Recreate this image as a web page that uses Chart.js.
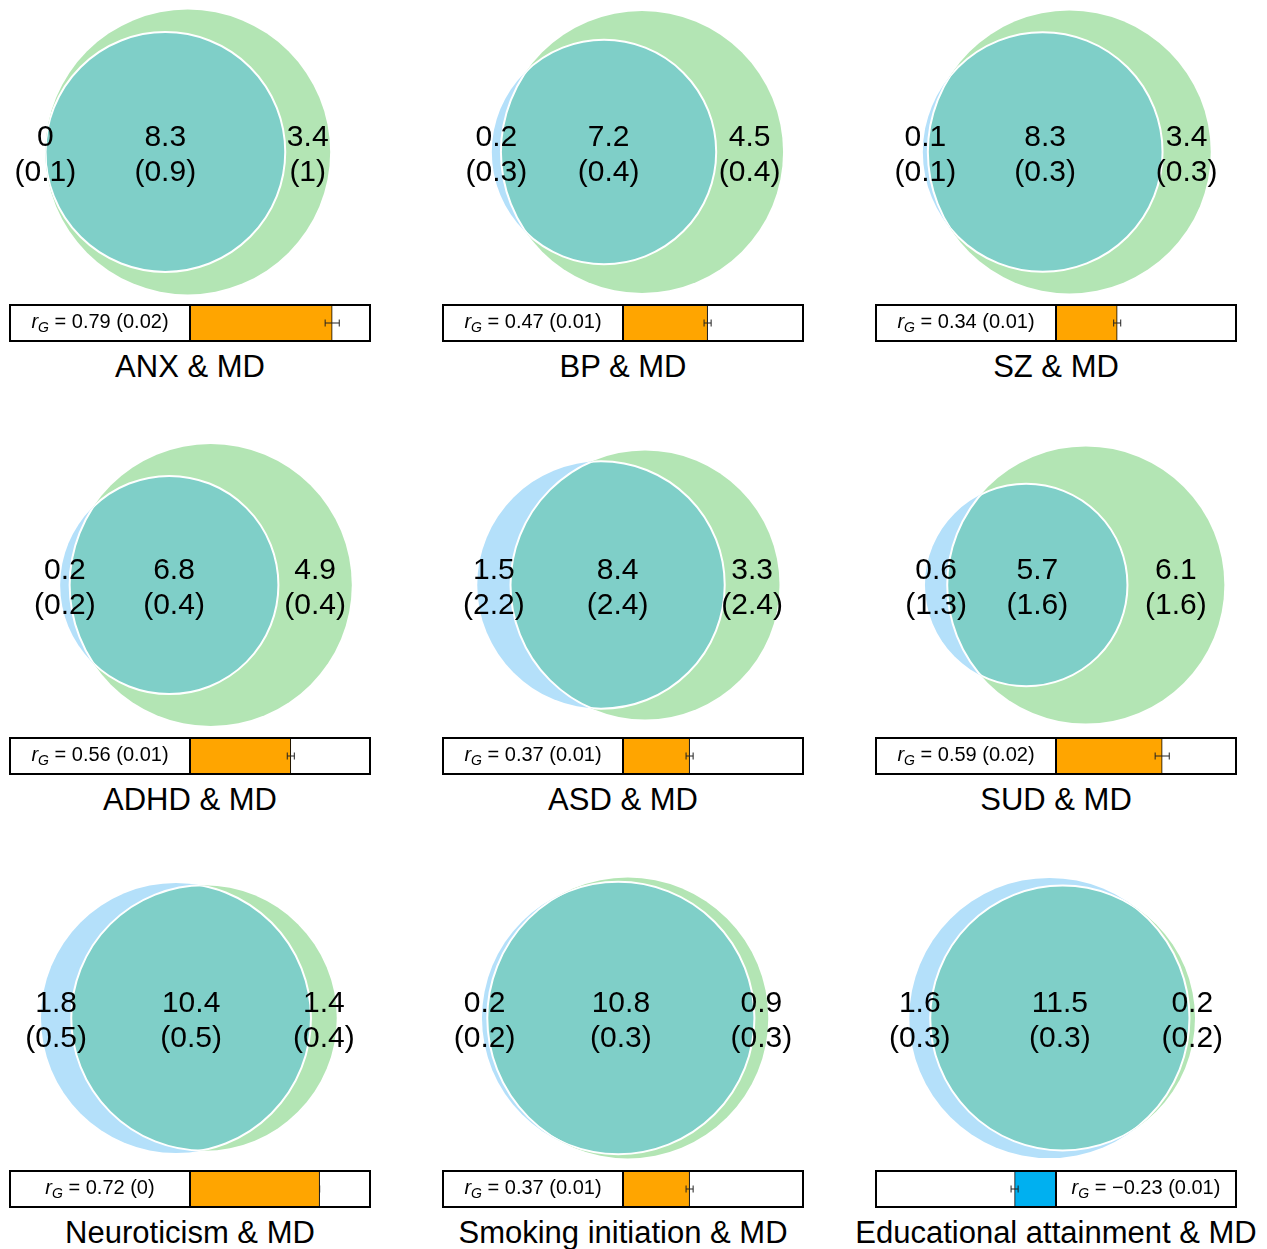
<!DOCTYPE html>
<html>
<head>
<meta charset="utf-8">
<script src="https://cdn.jsdelivr.net/npm/chart.js@4/dist/chart.umd.min.js"></script>
<style>
html, body { margin: 0; padding: 0; background: #fff; width: 1267px; height: 1249px; overflow: hidden; }
.box { position: absolute; }
.title { position: absolute; width: 600px; text-align: center; font: 31px "Liberation Sans", Arial, sans-serif; line-height: 31px; color: #000; white-space: nowrap; }
</style>
</head>
<body>
<script>
// panel data (trait vs MD)
var traits = ["ANX", "BP", "SZ", "ADHD", "ASD", "SUD", "Neuroticism", "Smoking initiation", "Educational attainment"];
var traitOnly = [0, 0.2, 0.1, 0.2, 1.5, 0.6, 1.8, 0.2, 1.6];
var traitOnlySE = [0.1, 0.3, 0.1, 0.2, 2.2, 1.3, 0.5, 0.2, 0.3];
var shared = [8.3, 7.2, 8.3, 6.8, 8.4, 5.7, 10.4, 10.8, 11.5];
var sharedSE = [0.9, 0.4, 0.3, 0.4, 2.4, 1.6, 0.5, 0.3, 0.3];
var mdOnly = [3.4, 4.5, 3.4, 4.9, 3.3, 6.1, 1.4, 0.9, 0.2];
var mdOnlySE = [1, 0.4, 0.3, 0.4, 2.4, 1.6, 0.4, 0.3, 0.2];
var rg = [0.79, 0.47, 0.34, 0.56, 0.37, 0.59, 0.72, 0.37, -0.23];
var rgSE = [0.02, 0.01, 0.01, 0.01, 0.01, 0.02, 0, 0.01, 0.01];

// layout: pixels per area-unit of radius in each venn panel
var vennPxPerUnit = [73.8, 73.1, 73.3, 73.1, 69.7, 71.5, 68.5, 72.8, 68.6];

var BLUE = "#B4E0FA", GREEN = "#B3E5B4", TEAL = "#7FCFC8";
var FONT = '"Liberation Sans", Arial, sans-serif';
Chart.defaults.font.family = FONT;

function lensArea(r1, r2, d) {
    if (d >= r1 + r2) return 0;
    if (d <= Math.abs(r1 - r2)) return Math.PI * Math.min(r1, r2) * Math.min(r1, r2);
    var a1 = Math.acos((d * d + r1 * r1 - r2 * r2) / (2 * d * r1));
    var a2 = Math.acos((d * d + r2 * r2 - r1 * r1) / (2 * d * r2));
    return r1 * r1 * a1 + r2 * r2 * a2 -
        0.5 * Math.sqrt((-d + r1 + r2) * (d + r1 - r2) * (d - r1 + r2) * (d + r1 + r2));
}

function centreDistance(r1, r2, target) {
    var lo = Math.abs(r1 - r2), hi = r1 + r2;
    for (var k = 0; k < 60; k++) {
        var mid = (lo + hi) / 2;
        if (lensArea(r1, r2, mid) > target) lo = mid; else hi = mid;
    }
    return (lo + hi) / 2;
}

function unitPx(chart) {
    var s = chart.scales.x;
    return Math.abs(s.getPixelForValue(1) - s.getPixelForValue(0));
}

function circleOf(chart, idx) {
    var el = chart.getDatasetMeta(idx).data[0];
    return { x: el.x, y: el.y, r: el.options.radius };
}

// clip a dataset to another circle so only the overlap is painted
var vennClip = {
    id: "vennClip",
    beforeDatasetDraw: function (chart, args) {
        var ds = chart.data.datasets[args.index];
        if (ds.clipTo === undefined) return;
        var c = circleOf(chart, ds.clipTo);
        var ctx = chart.ctx;
        ctx.save();
        ctx.beginPath();
        ctx.arc(c.x, c.y, c.r, 0, Math.PI * 2);
        ctx.clip();
    },
    afterDatasetDraw: function (chart, args) {
        var ds = chart.data.datasets[args.index];
        if (ds.clipTo === undefined) return;
        chart.ctx.restore();
    }
};

function vennLabels(i) {
    return {
        id: "vennLabels" + i,
        afterDatasetsDraw: function (chart) {
            var ctx = chart.ctx;
            var b = circleOf(chart, 3), g = circleOf(chart, 2);
            var xs = [
                ((b.x - b.r) + (g.x - g.r)) / 2,
                ((g.x - g.r) + (b.x + b.r)) / 2,
                ((b.x + b.r) + (g.x + g.r)) / 2
            ];
            var vals = [traitOnly[i], shared[i], mdOnly[i]];
            var ses = [traitOnlySE[i], sharedSE[i], mdOnlySE[i]];
            ctx.save();
            ctx.font = "30px " + FONT;
            ctx.fillStyle = "#000";
            ctx.textAlign = "center";
            ctx.textBaseline = "alphabetic";
            for (var k = 0; k < 3; k++) {
                ctx.fillText(String(vals[k]), xs[k], b.y - 6.5);
                ctx.fillText("(" + ses[k] + ")", xs[k], b.y + 29);
            }
            ctx.restore();
        }
    };
}

function barDeco(i) {
    return {
        id: "barDeco" + i,
        afterDatasetsDraw: function (chart) {
            var ctx = chart.ctx, a = chart.chartArea, x = chart.scales.x;
            var x0 = x.getPixelForValue(0);
            var yc = (a.top + a.bottom) / 2;
            ctx.save();
            // confidence interval
            var lo = x.getPixelForValue(rg[i] - 1.96 * rgSE[i]);
            var hi = x.getPixelForValue(rg[i] + 1.96 * rgSE[i]);
            ctx.strokeStyle = "#222";
            ctx.lineWidth = 1;
            ctx.beginPath();
            ctx.moveTo(lo, yc); ctx.lineTo(hi, yc);
            ctx.moveTo(lo, yc - 3.5); ctx.lineTo(lo, yc + 3.5);
            ctx.moveTo(hi, yc - 3.5); ctx.lineTo(hi, yc + 3.5);
            ctx.stroke();
            // zero line and frame
            ctx.strokeStyle = "#000";
            ctx.lineWidth = 2;
            ctx.beginPath();
            ctx.moveTo(x0, a.top); ctx.lineTo(x0, a.bottom);
            ctx.stroke();
            ctx.strokeRect(a.left, a.top, a.right - a.left, a.bottom - a.top);
            // r_G label
            var v = (rg[i] < 0 ? "\u2212" + Math.abs(rg[i]) : String(rg[i]));
            var rest = " = " + v + " (" + rgSE[i] + ")";
            var fR = "italic 20px " + FONT, fG = "italic 14px " + FONT, fT = "20px " + FONT;
            ctx.font = fR; var wR = ctx.measureText("r").width;
            ctx.font = fG; var wG = ctx.measureText("G").width;
            ctx.font = fT; var wT = ctx.measureText(rest).width;
            var cx = rg[i] >= 0 ? (a.left + x0) / 2 : (x0 + a.right) / 2;
            var sx = cx - (wR + wG + wT) / 2;
            var base = a.top + 23;
            ctx.fillStyle = "#000";
            ctx.textAlign = "left";
            ctx.textBaseline = "alphabetic";
            ctx.font = fR; ctx.fillText("r", sx, base);
            ctx.font = fG; ctx.fillText("G", sx + wR, base + 4);
            ctx.font = fT; ctx.fillText(rest, sx + wR + wG, base);
            ctx.restore();
        }
    };
}

function addBox(left, top, w, h) {
    var d = document.createElement("div");
    d.className = "box";
    d.style.left = left + "px";
    d.style.top = top + "px";
    d.style.width = w + "px";
    d.style.height = h + "px";
    var c = document.createElement("canvas");
    d.appendChild(c);
    document.body.appendChild(d);
    return c;
}

traits.forEach(function (name, i) {
    var X = 433 * (i % 3), Y = 433 * Math.floor(i / 3);

    // venn geometry from the areas
    var rB = Math.sqrt((traitOnly[i] + shared[i]) / Math.PI);
    var rM = Math.sqrt((shared[i] + mdOnly[i]) / Math.PI);
    var d = centreDistance(rB, rM, shared[i]);
    var bx = -d / 2, mx = d / 2;
    if (traitOnly[i] === 0) { bx = -d * 1.1; mx = -d * 0.1; }
    var s = vennPxPerUnit[i];

    var vennCanvas = addBox(X, Y, 380, 300);
    new Chart(vennCanvas, {
        type: "scatter",
        data: {
            datasets: [
                { label: "edge", data: [{ x: mx, y: 0 }], clipTo: 3, order: 0,
                  pointBackgroundColor: "rgba(0,0,0,0)", pointBorderColor: "#fff", pointBorderWidth: 2,
                  pointRadius: function (ctx) { return unitPx(ctx.chart) * rM; } },
                { label: "shared", data: [{ x: bx, y: 0 }], clipTo: 2, order: 1,
                  pointBackgroundColor: TEAL, pointBorderColor: "#fff", pointBorderWidth: 2,
                  pointRadius: function (ctx) { return unitPx(ctx.chart) * rB; } },
                { label: "MD", data: [{ x: mx, y: 0 }], order: 2,
                  pointBackgroundColor: GREEN, pointBorderWidth: 0,
                  pointRadius: function (ctx) { return unitPx(ctx.chart) * rM; } },
                { label: name, data: [{ x: bx, y: 0 }], order: 3,
                  pointBackgroundColor: BLUE, pointBorderWidth: 0,
                  pointRadius: function (ctx) { return unitPx(ctx.chart) * rB; } }
            ]
        },
        options: {
            responsive: true,
            maintainAspectRatio: false,
            animation: false,
            events: [],
            layout: { padding: 0 },
            plugins: { legend: { display: false }, tooltip: { enabled: false } },
            scales: {
                x: { type: "linear", display: false, min: -190 / s, max: 190 / s },
                y: { type: "linear", display: false, min: -148 / s, max: 152 / s }
            }
        },
        plugins: [vennClip, vennLabels(i)]
    });

    var barCanvas = addBox(X + 6, Y + 301, 368, 44);
    new Chart(barCanvas, {
        type: "bar",
        data: {
            labels: [name],
            datasets: [{
                data: [rg[i]],
                backgroundColor: rg[i] >= 0 ? "#FFA500" : "#00B0F0",
                borderColor: "#000",
                borderWidth: 1,
                barPercentage: 1.0,
                categoryPercentage: 1.0
            }]
        },
        options: {
            indexAxis: "y",
            responsive: true,
            maintainAspectRatio: false,
            animation: false,
            events: [],
            layout: { padding: 4 },
            plugins: { legend: { display: false }, tooltip: { enabled: false } },
            scales: {
                x: { type: "linear", display: false, min: -1, max: 1 },
                y: { display: false }
            }
        },
        plugins: [barDeco(i)]
    });

    var t = document.createElement("div");
    t.className = "title";
    t.style.left = (X + 190 - 300) + "px";
    t.style.top = (Y + 351) + "px";
    t.textContent = name + " & MD";
    document.body.appendChild(t);
});
</script>
</body>
</html>
